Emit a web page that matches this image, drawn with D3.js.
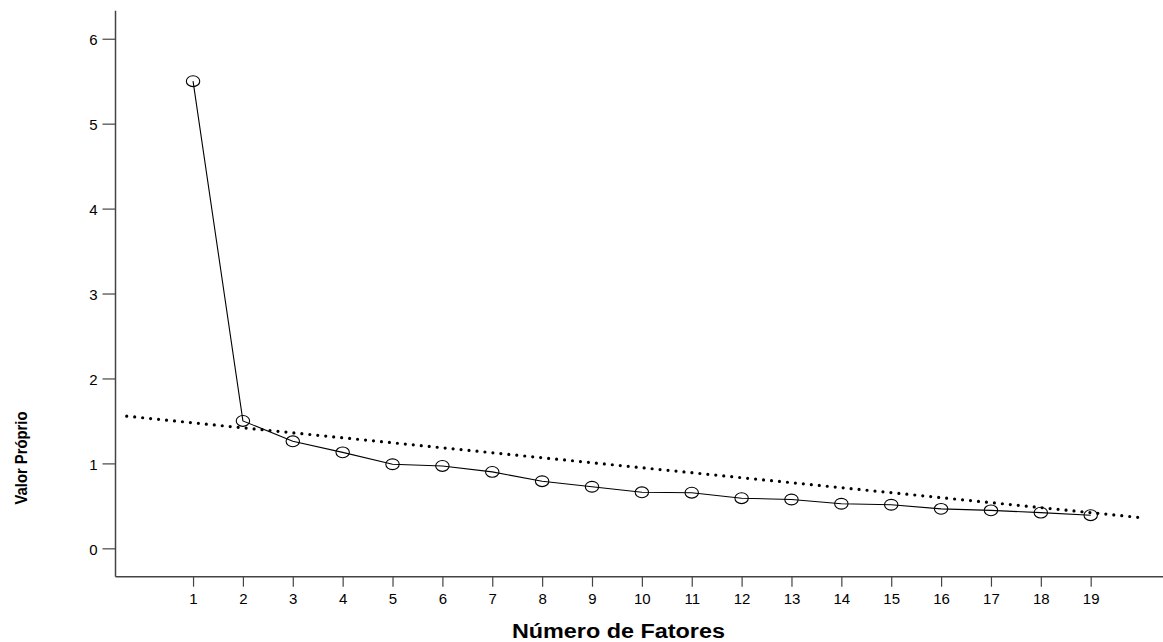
<!DOCTYPE html>
<html>
<head>
<meta charset="utf-8">
<script src="https://cdn.jsdelivr.net/npm/d3@7"></script>
<style>
  html, body { margin: 0; padding: 0; background: #fff; }
  svg { display: block; }
  text { font-family: "Liberation Sans", Arial, sans-serif; fill: #000; }
</style>
</head>
<body>
<svg id="chart" width="1163" height="642"></svg>
<script>
// ---- data ----
const factors = [1,2,3,4,5,6,7,8,9,10,11,12,13,14,15,16,17,18,19];
const eigenvalues = [5.50,1.50,1.26,1.13,0.99,0.97,0.90,0.79,0.725,0.66,0.655,0.59,0.575,0.525,0.513,0.465,0.447,0.42,0.39];
const trendX = [-0.33, 20.1];
const trendY = [1.556, 0.356];
const yTicks = [0,1,2,3,4,5,6];
const xTicks = factors;
const xTitle = "Número de Fatores";
const yTitle = "Valor Próprio";

// ---- layout ----
const svg = d3.select("#chart");
const mLeft = 115.5, mRight = 1163, mTop = 10.7, mBottom = 576.7;

const x = d3.scaleLinear().domain([-0.555, 20.45]).range([mLeft, mRight]);
const y = d3.scaleLinear().domain([-0.334, 6.33]).range([mBottom, mTop]);

const axisColor = "#444";

// y axis
const yAxis = svg.append("g").attr("transform", `translate(${mLeft},0)`)
  .call(d3.axisLeft(y).tickValues(yTicks).tickSize(13).tickPadding(5).tickFormat(d3.format("d")));
yAxis.select(".domain").attr("d", `M0,${mTop}V${mBottom}`).attr("stroke", axisColor).attr("stroke-width", 1.5);
yAxis.selectAll(".tick line").attr("stroke", axisColor).attr("stroke-width", 1.2);
yAxis.selectAll(".tick text").attr("font-size", 15).attr("fill", "#000").attr("dy", "0.40em")
  .attr("font-family", "Liberation Sans, Arial, sans-serif");

// x axis
const xAxis = svg.append("g").attr("transform", `translate(0,${mBottom})`)
  .call(d3.axisBottom(x).tickValues(xTicks).tickSize(10).tickPadding(7).tickFormat(d3.format("d")));
xAxis.select(".domain").attr("d", `M${mLeft},0H${mRight}`).attr("stroke", axisColor).attr("stroke-width", 1.5);
xAxis.selectAll(".tick line").attr("stroke", axisColor).attr("stroke-width", 1.2);
xAxis.selectAll(".tick text").attr("font-size", 15).attr("fill", "#000")
  .attr("font-family", "Liberation Sans, Arial, sans-serif");

// trend dotted line
svg.append("path")
  .datum(trendX.map((d, i) => [d, trendY[i]]))
  .attr("d", d3.line().x(d => x(d[0])).y(d => y(d[1])))
  .attr("fill", "none").attr("stroke", "#000").attr("stroke-width", 3.2)
  .attr("stroke-linecap", "round").attr("stroke-dasharray", "0 8");

// scree line
const pts = factors.map((f, i) => [f, eigenvalues[i]]);
svg.append("path")
  .datum(pts)
  .attr("d", d3.line().x(d => x(d[0])).y(d => y(d[1])))
  .attr("fill", "none").attr("stroke", "#000").attr("stroke-width", 1.1);

svg.selectAll("ellipse.pt").data(pts).enter().append("ellipse")
  .attr("class", "pt")
  .attr("cx", d => x(d[0])).attr("cy", d => y(d[1]))
  .attr("rx", 6.7).attr("ry", 5.4)
  .attr("fill", "none").attr("stroke", "#000").attr("stroke-width", 1.1);

// titles
svg.append("text")
  .attr("x", 618.4).attr("y", 638.3)
  .attr("text-anchor", "middle")
  .attr("font-size", 20).attr("font-weight", "bold")
  .attr("textLength", 213).attr("lengthAdjust", "spacingAndGlyphs")
  .text(xTitle);

svg.append("text")
  .attr("transform", "translate(26.5,458) rotate(-90) scale(1,1.15)")
  .attr("text-anchor", "middle")
  .attr("font-size", 15).attr("font-weight", "bold")
  .attr("textLength", 93).attr("lengthAdjust", "spacingAndGlyphs")
  .text(yTitle);
</script>
</body>
</html>
